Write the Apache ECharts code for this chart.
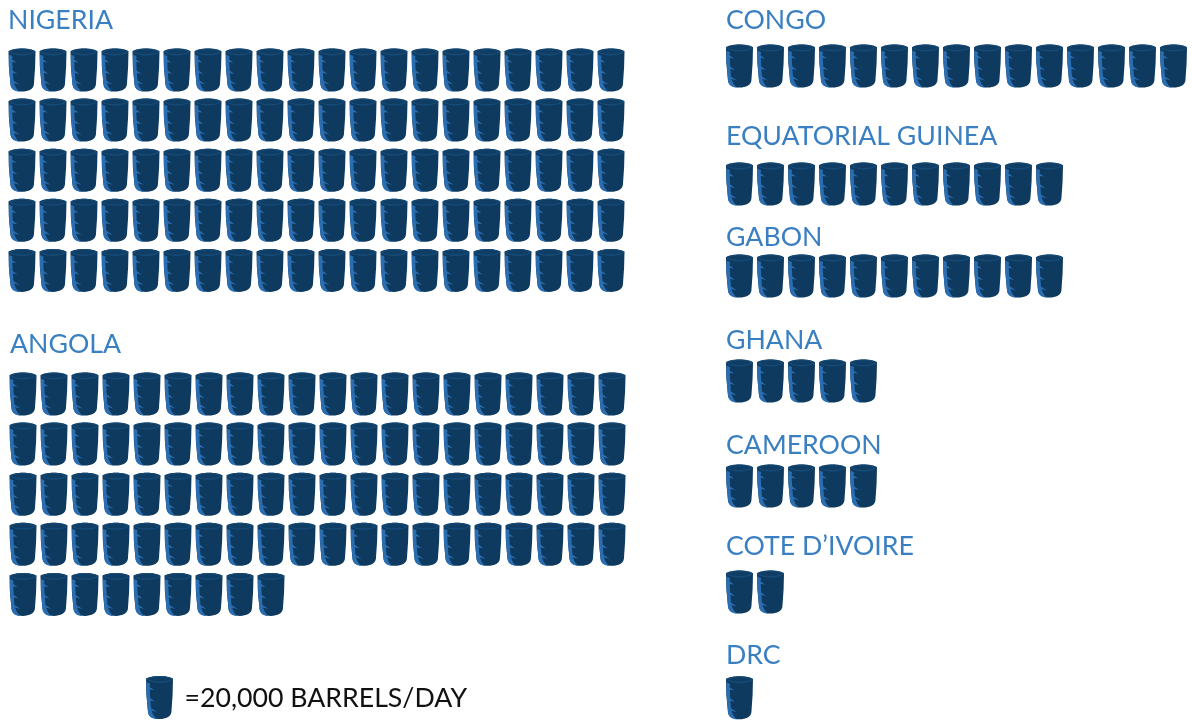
<!DOCTYPE html>
<html><head><meta charset="utf-8">
<style>html,body{margin:0;padding:0;background:#fff}#c{width:1192px;height:721px}</style>
<script src="https://cdn.jsdelivr.net/npm/echarts@6/dist/echarts.min.js"></script>
</head><body><div id="c"></div>
<script>
const countries = ['NIGERIA','ANGOLA','CONGO','EQUATORIAL GUINEA','GABON','GHANA','CAMEROON','COTE D\u2019IVOIRE','DRC'];
const barrels = [100,89,15,11,11,5,5,2,1];
const rowCapacity = [20,20,15,11,11,5,5,2,1];
const legendLabel = '=20,000 BARRELS/DAY';

// layout only: left of first barrel, top of first barrel, label x, label y centre
const layout = [
  [8.5,47.5,8,20],[9.5,371.5,10,344],[726,43.5,726,20],[726,161.5,726,136],[726,253.5,726,237],
  [726,358.5,726,340],[726,463.5,726,445],[726,569.5,726,546],[726,676.5,726,655]
];
const PX = 31, PY = 50.1, BW = 27, BH = 44;

const LAYERS = [
  {fill:'#0e3a5f', box:[0,1,27,43], d:'M0 4 C5 0.5 22 0.5 27 4 L26.6 20 L25.4 37 C25 41.5 20 44 13.5 44 C7 44 2.4 41.5 2 37 L0.4 20 Z'},
  {fill:'#2a6db0', box:[0.4,7,10.6,37], d:'M0.4 7 L4 8.5 L3.6 12 L8 15 L3.8 14.6 L4.2 23 L9 26.5 L4.4 25.6 L5 33 L11 37 L5.5 35.6 C6.5 39 8.5 42.5 11 44 C6 44 2.4 41.5 2 37 L1 26 L0.4 18 Z'},
  {fill:'#164a77', box:[0,1,27,7], d:'M0 4 C5 0 22 0 27 4 C22 8 5 8 0 4 Z'},
  {fill:'#0f3d64', box:[2,2,23,4.5], d:'M2 4.4 C7 1.4 20 1.4 25 4.4 C20 7.2 7 7.2 2 4.4 Z'}
];

function barrelItem(params, api) {
  const p = api.coord([api.value(0), api.value(1)]);
  return {
    type:'group', x:p[0]-BW/2, y:p[1]-BH/2,
    children: LAYERS.map(l => ({
      type:'path',
      shape:{pathData:l.d, layout:'cover', x:l.box[0], y:l.box[1], width:l.box[2], height:l.box[3]},
      style:{fill:l.fill}
    }))
  };
}

const grids=[], xAxes=[], yAxes=[], series=[], titles=[];
function addPanel(count, cap, left, top) {
  const i = grids.length, rows = Math.ceil(count/cap), pts=[];
  for (let n=0;n<count;n++) pts.push([n%cap, Math.floor(n/cap)]);
  grids.push({left:left-(PX-BW)/2, top:top-(PY-BH)/2, width:PX*cap, height:PY*rows});
  xAxes.push({type:'value', gridIndex:i, min:-0.5, max:cap-0.5, show:false});
  yAxes.push({type:'value', gridIndex:i, min:-0.5, max:rows-0.5, inverse:true, show:false});
  series.push({type:'custom', xAxisIndex:i, yAxisIndex:i, data:pts, renderItem:barrelItem, silent:true, clip:false, animation:false});
}
countries.forEach((name,k)=>{
  const [l,t,lx,ly]=layout[k];
  addPanel(barrels[k], rowCapacity[k], l, t);
  titles.push({text:name, left:lx, top:ly-16, padding:0,
    textStyle:{fontFamily:'Lato',fontSize:26.7,fontWeight:'normal',color:'#3a7fc1',lineHeight:32}});
});
addPanel(1,1,146,676);
titles.push({text:legendLabel, left:184.5, top:682, padding:0,
  textStyle:{fontFamily:'Lato',fontSize:26.7,fontWeight:'normal',color:'#111',lineHeight:32}});

const chart = echarts.init(document.getElementById('c'),null,{renderer:'canvas'});
chart.setOption({animation:false, backgroundColor:'#fff', title:titles, grid:grids, xAxis:xAxes, yAxis:yAxes, series});
</script></body></html>
